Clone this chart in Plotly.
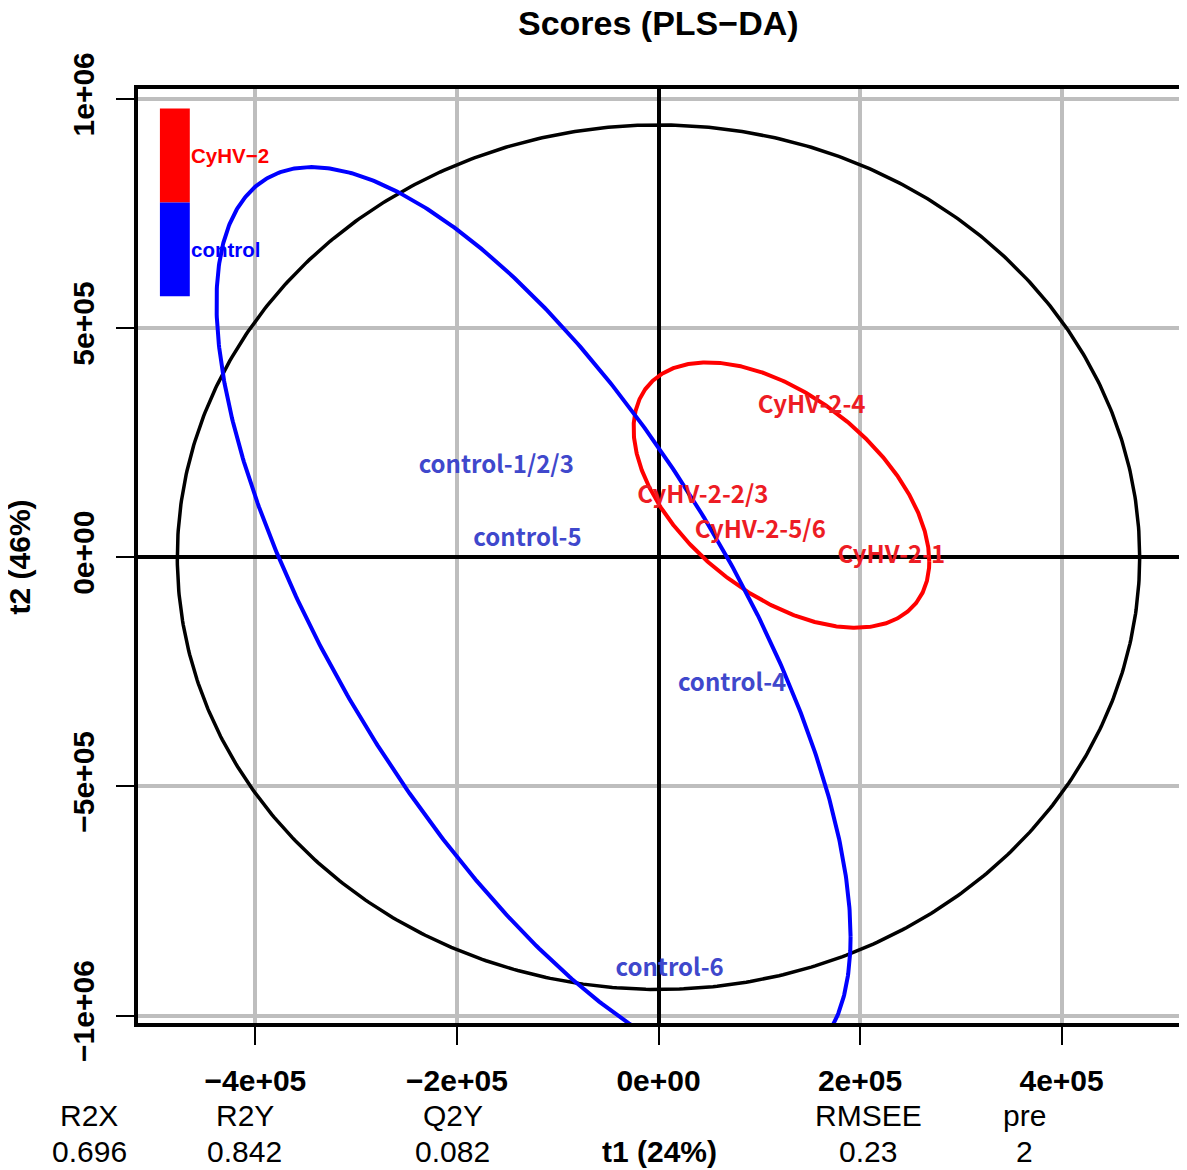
import numpy as np
import plotly.graph_objects as go

# ---------------- data ----------------
title_text = "Scores (PLS\u2212DA)"
x_title = "t1 (24%)"
y_title = "t2 (46%)"

x_ticks = [-4e5, -2e5, 0, 2e5, 4e5]
x_tick_labels = ["\u22124e+05", "\u22122e+05", "0e+00", "2e+05", "4e+05"]
y_ticks = [-1e6, -5e5, 0, 5e5, 1e6]
y_tick_labels = ["\u22121e+06", "\u22125e+05", "0e+00", "5e+05", "1e+06"]

x_range = [-5.165e5, 5.165e5]
y_range = [-1.0162e6, 1.0214e6]

groups = ["CyHV\u22122", "control"]
group_colors = ["#FF0000", "#0000FF"]
# group confidence ellipses: centre, half extents along t1/t2, correlation
ell_cx = [1.22e5, -1.24e5]
ell_cy = [1.355e5, -1.365e5]
ell_hx = [1.467e5, 3.146e5]
ell_hy = [2.895e5, 9.875e5]
ell_rho = [-0.50, -0.70]

# Hotelling T2 ellipse half axes
hot_hx = 4.775e5
hot_hy = 9.43e5

sample_labels = ["CyHV-2-4", "CyHV-2-2/3", "CyHV-2-5/6", "CyHV-2-1",
                 "control-1/2/3", "control-5", "control-4", "control-6"]
sample_x = [1.52e5, 0.44e5, 1.01e5, 2.31e5, -1.61e5, -1.30e5, 0.73e5, 0.11e5]
sample_y = [3.27e5, 1.31e5, 0.55e5, 0.0, 1.97e5, 0.375e5, -2.785e5, -9.0e5]
sample_group = [0, 0, 0, 0, 1, 1, 1, 1]
label_colors = ["#ED1C24", "#3F48CC"]

metric_names = ["R2X", "R2Y", "Q2Y", "RMSEE", "pre"]
metric_values = ["0.696", "0.842", "0.082", "0.23", "2"]
metric_px = [87, 243, 452, 869, 1026]

# ---------------- figure ----------------
OFF = 8  # page body margin
W, H = 1187 - OFF, 1170 - OFF
plot_left, plot_right = 138 - OFF, 1183 - OFF
plot_top, plot_bottom = 88.5 - OFF, 1023.5 - OFF
L, R, T, B = plot_left, W - plot_right, plot_top, H - plot_bottom
pw, ph = plot_right - plot_left, plot_bottom - plot_top


def px2paper_x(px):
    return (px - OFF - plot_left) / pw


def py2paper_y(py):
    return (plot_bottom - (py - OFF)) / ph


t = np.linspace(0, 2 * np.pi, 721)
fig = go.Figure()

# Hotelling ellipse
fig.add_trace(go.Scatter(x=hot_hx * np.cos(t), y=hot_hy * np.sin(t), mode="lines",
                         line=dict(color="black", width=3.5), hoverinfo="skip",
                         showlegend=False))

# group ellipses
for i in range(len(groups)):
    s = np.sqrt(1 - ell_rho[i] ** 2)
    ex = ell_cx[i] + ell_hx[i] * np.cos(t)
    ey = ell_cy[i] + ell_hy[i] * (ell_rho[i] * np.cos(t) + s * np.sin(t))
    fig.add_trace(go.Scatter(x=ex, y=ey, mode="lines",
                             line=dict(color=group_colors[i], width=4),
                             hoverinfo="skip", showlegend=False))

# sample labels
fig.add_trace(go.Scatter(
    x=sample_x, y=sample_y, mode="text", text=sample_labels,
    textposition="middle center",
    textfont=dict(family="Noto Sans CJK SC", size=24, weight="bold",
                  color=[label_colors[g] for g in sample_group]),
    hoverinfo="skip", showlegend=False))

shapes = []
annotations = []

# colour key (legend)
key_top = 108
key_h = 94
for i, g in enumerate(groups):
    y0 = key_top + i * key_h
    shapes.append(dict(type="rect", xref="paper", yref="paper",
                       x0=px2paper_x(160), x1=px2paper_x(190),
                       y0=py2paper_y(y0 + key_h), y1=py2paper_y(y0),
                       fillcolor=group_colors[i], line=dict(width=0), layer="above"))
    annotations.append(dict(text="<b>%s</b>" % g, xref="paper", yref="paper",
                            x=px2paper_x(189), y=py2paper_y(y0 + key_h / 2),
                            xanchor="left", yanchor="middle", showarrow=False,
                            font=dict(family="Liberation Sans", size=20.5,
                                      color=group_colors[i])))

# title
annotations.append(dict(text="<b>%s</b>" % title_text, xref="paper", yref="paper",
                        x=px2paper_x(661), y=py2paper_y(22), xanchor="center",
                        yanchor="middle", showarrow=False,
                        font=dict(family="Liberation Sans", size=34, color="black")))
# axis titles
annotations.append(dict(text="<b>%s</b>" % x_title, xref="paper", yref="paper",
                        x=px2paper_x(662), y=py2paper_y(1152), xanchor="center",
                        yanchor="middle", showarrow=False,
                        font=dict(family="Liberation Sans", size=30, color="black")))
annotations.append(dict(text="<b>%s</b>" % y_title, xref="paper", yref="paper",
                        x=px2paper_x(20), y=py2paper_y(557), xanchor="center",
                        yanchor="middle", showarrow=False, textangle=-90,
                        font=dict(family="Liberation Sans", size=30, color="black")))
# model metrics
for n, v, p in zip(metric_names, metric_values, metric_px):
    annotations.append(dict(text=n, xref="paper", yref="paper",
                            x=px2paper_x(p + 2), y=py2paper_y(1116), xanchor="center",
                            yanchor="middle", showarrow=False,
                            font=dict(family="Liberation Sans", size=30, color="black")))
    annotations.append(dict(text=v, xref="paper", yref="paper",
                            x=px2paper_x(p + 2), y=py2paper_y(1152), xanchor="center",
                            yanchor="middle", showarrow=False,
                            font=dict(family="Liberation Sans", size=30, color="black")))

axis_common = dict(showgrid=True, gridcolor="#BEBEBE", gridwidth=3.5,
                   zeroline=True, zerolinecolor="black", zerolinewidth=3.5,
                   showline=True, linecolor="black", linewidth=4, mirror=True,
                   ticks="outside", ticklen=18, tickwidth=2, tickcolor="black",
                   tickfont=dict(family="Liberation Sans", size=30, color="black",
                                 weight="bold"))

fig.update_layout(
    width=W, height=H,
    margin=dict(l=L, r=R, t=T, b=B, pad=0),
    paper_bgcolor="white", plot_bgcolor="white",
    xaxis=dict(range=x_range, tickvals=x_ticks, ticktext=x_tick_labels,
               ticklabelstandoff=10, **axis_common),
    yaxis=dict(range=y_range, tickvals=y_ticks, ticktext=y_tick_labels,
               tickangle=-90, ticklabelstandoff=10, **axis_common),
    shapes=shapes, annotations=annotations, showlegend=False,
)

fig.write_html("out.html")
